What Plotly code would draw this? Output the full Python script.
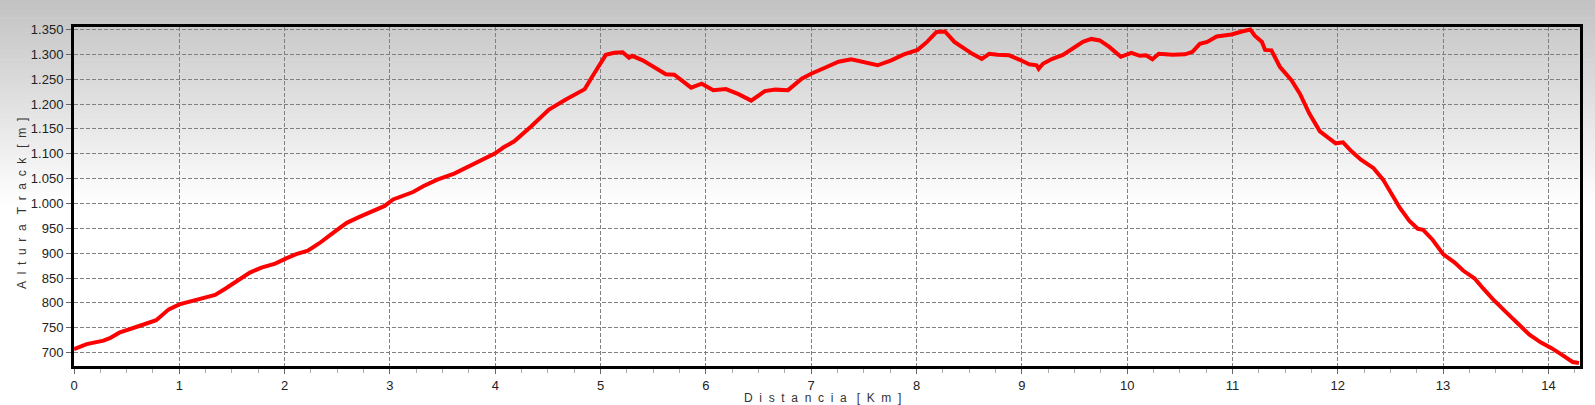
import plotly.graph_objects as go

# ---- data ----
distance_km = [
    0.00, 0.12, 0.28, 0.34, 0.43, 0.53, 0.64, 0.78, 0.90, 1.00,
    1.15, 1.34, 1.44, 1.56, 1.67, 1.78, 1.91, 2.02, 2.11, 2.22,
    2.33, 2.46, 2.59, 2.71, 2.84, 2.95, 3.03, 3.22, 3.32, 3.45,
    3.61, 3.75, 3.89, 4.00, 4.08, 4.18, 4.34, 4.51, 4.67, 4.78,
    4.85, 4.92, 5.00, 5.05, 5.13, 5.21, 5.27, 5.30, 5.40, 5.53,
    5.62, 5.70, 5.78, 5.86, 5.96, 6.07, 6.19, 6.31, 6.43, 6.56,
    6.66, 6.78, 6.91, 7.00, 7.13, 7.26, 7.38, 7.51, 7.63, 7.76,
    7.88, 8.01, 8.10, 8.19, 8.27, 8.36, 8.44, 8.53, 8.62, 8.69,
    8.77, 8.88, 8.98, 9.07, 9.14, 9.16, 9.20, 9.29, 9.39, 9.48,
    9.58, 9.66, 9.74, 9.83, 9.94, 10.04, 10.12, 10.18, 10.24, 10.30,
    10.43, 10.55, 10.62, 10.69, 10.76, 10.85, 10.99, 11.09, 11.17, 11.21,
    11.28, 11.31, 11.37, 11.45, 11.56, 11.64, 11.73, 11.83, 11.91, 11.98,
    12.05, 12.13, 12.22, 12.34, 12.43, 12.51, 12.59, 12.68, 12.76, 12.81,
    12.90, 13.00, 13.11, 13.19, 13.30, 13.38, 13.47, 13.60, 13.70, 13.82,
    13.93, 14.03, 14.14, 14.23, 14.29,
]
altitude_m = [
    707, 717, 724, 729, 740, 748, 755, 765, 787, 797,
    805, 816, 829, 845, 861, 871, 879, 890, 898, 905,
    920, 941, 961, 973, 985, 995, 1008, 1023, 1035, 1048,
    1060, 1075, 1089, 1101, 1113, 1125, 1155, 1189, 1209, 1223,
    1230, 1255, 1281, 1299, 1303, 1304, 1293, 1297, 1288, 1271,
    1260, 1259, 1245, 1233, 1241, 1228, 1230, 1220, 1207, 1226,
    1229, 1228, 1251, 1261, 1273, 1285, 1290, 1283, 1278, 1288,
    1300, 1309, 1325, 1345, 1346, 1325, 1313, 1301, 1291, 1301,
    1299, 1298, 1289, 1280, 1278, 1271, 1281, 1291, 1299, 1311,
    1325, 1331, 1328, 1315, 1295, 1303, 1297, 1298, 1290, 1301,
    1299, 1300, 1305, 1321, 1325, 1336, 1340, 1346, 1350, 1338,
    1325, 1309, 1308, 1275, 1248, 1221, 1181, 1145, 1131, 1121,
    1123, 1105, 1088, 1071, 1048, 1018, 991, 965, 949, 947,
    927, 898, 881, 865, 849, 829, 808, 781, 760, 736,
    720, 709, 694, 681, 679,
]
x_ticks = list(range(0, 15))
y_ticks = list(range(700, 1351, 50))

W, H = 1595, 405
ML, MR, MT, MB = 74, 15, 27, 39
PW, PH = W - ML - MR, H - MT - MB

fig = go.Figure()
fig.add_trace(go.Scatter(
    x=distance_km, y=altitude_m, mode="lines",
    line=dict(color="#ff0000", width=4),
    hoverinfo="x+y", showlegend=False,
))

# background gradient (gray at top -> white), drawn as thin bands
shapes = []
n = 45
top_px, white_px = 0.0, 205.0
for i in range(n):
    p0 = top_px + (white_px - top_px) * i / n
    p1 = top_px + (white_px - top_px) * (i + 1) / n + 0.6
    v = int(round(194 + (255 - 194) * (i + 0.5) / n))
    col = f"rgb({v},{v},{v})"
    shapes.append(dict(
        type="rect", xref="paper", yref="paper", layer="below",
        x0=-ML / PW, x1=1 + MR / PW,
        y0=(H - MB - p1) / PH, y1=(H - MB - p0) / PH,
        fillcolor=col, line=dict(width=0),
    ))

sp = "\u00a0\u00a0"
xtitle = sp.join("Distancia") + sp + "\u00a0" + sp.join("[Km]")
ytitle = sp.join("Altura") + sp + "\u00a0" + sp.join("Track") + sp + "\u00a0" + sp.join("[m]")

font_family = "Liberation Sans, Arial, sans-serif"

fig.update_layout(
    width=W, height=H,
    margin=dict(l=ML, r=MR, t=MT, b=MB, pad=0),
    paper_bgcolor="white",
    plot_bgcolor="rgba(0,0,0,0)",
    separators=",.",
    shapes=shapes,
    font=dict(family=font_family, size=13, color="#222222"),
    annotations=[
        dict(text=xtitle, xref="paper", yref="paper",
             x=(822 - ML) / PW, y=-(398 - (H - MB)) / PH,
             xanchor="center", yanchor="middle", showarrow=False,
             font=dict(family=font_family, size=12, color="#333333")),
        dict(text=ytitle, xref="paper", yref="paper",
             x=-(ML - 22) / PW, y=(H - MB - 204) / PH,
             xanchor="center", yanchor="middle", textangle=-90, showarrow=False,
             font=dict(family=font_family, size=12, color="#333333")),
    ],
)

fig.update_xaxes(
    range=[0, 14.3], tickvals=x_ticks, ticktext=[str(t) for t in x_ticks],
    showline=True, linecolor="black", linewidth=3, mirror=True,
    ticks="outside", ticklen=5, tickcolor="#666666", tickwidth=1,
    minor=dict(dtick=0.25, ticks="outside", ticklen=4, tickcolor="#aaaaaa",
               showgrid=False),
    showgrid=True, gridcolor="#808080", gridwidth=1, griddash="4px,2px",
    zeroline=False, tickfont=dict(size=13, color="#222222"),
)
fig.update_yaxes(
    range=[673, 1355], tickvals=y_ticks, tickformat=",d",
    showline=True, linecolor="black", linewidth=3, mirror=True,
    ticks="outside", ticklen=5, tickcolor="#666666", tickwidth=1,
    showgrid=True, gridcolor="#808080", gridwidth=1, griddash="4px,2px",
    zeroline=False, tickfont=dict(size=13, color="#222222"),
)

fig.write_html(
    "out.html",
    config={"displayModeBar": False},
    post_script="document.body.style.margin='0';document.body.style.overflow='hidden';",
)
